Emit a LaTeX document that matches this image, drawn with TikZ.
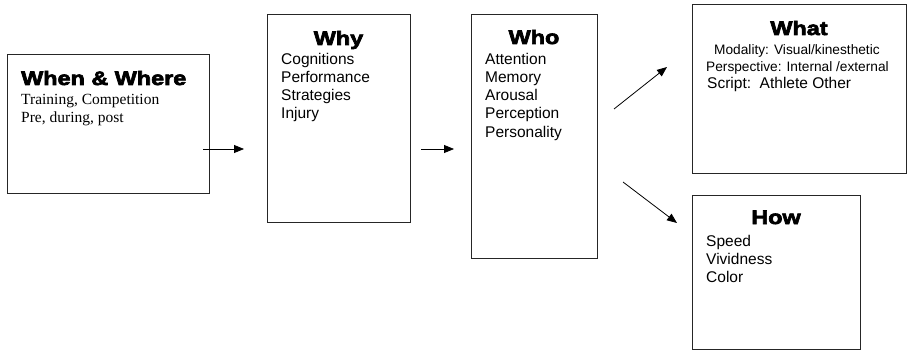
\documentclass[tikz,border=0pt]{standalone}
\usepackage{fontspec}
\setmainfont{Liberation Serif}
\newfontfamily\sansbody{Liberation Sans}
\newfontfamily\heavyfont{Liberation Sans Bold}[FakeBold=3.5,FakeStretch=1.2]
\usetikzlibrary{arrows.meta}
\tikzset{
  box/.style={draw=black!85, line width=0.9pt, inner sep=0pt, anchor=north west},
  ttl/.style={font=\heavyfont\fontsize{19.5}{22}\selectfont, inner sep=0pt, anchor=base},
  ttlw/.style={font=\heavyfont\fontsize{19.5}{22}\selectfont, inner sep=0pt, anchor=base west},
  ser/.style={font=\rmfamily\fontsize{15.5}{18}\selectfont, inner sep=0pt, anchor=base west},
  san/.style={font=\sansbody\fontsize{15.5}{18}\selectfont, inner sep=0pt, anchor=base west},
  sansm/.style={font=\sansbody\fontsize{13.7}{16}\selectfont, inner sep=0pt, anchor=base west},
  arr/.style={line width=0.8pt, -{Triangle[length=10pt,width=8pt]}}
}
\begin{document}
\begin{tikzpicture}[x=1pt,y=-1pt]
\useasboundingbox[fill=white] (0,0) rectangle (907,350);
% boxes
\node[box, minimum width=202pt, minimum height=139pt] (b1) at (7,54) {};
\node[box, minimum width=143pt, minimum height=208pt] (b2) at (267,14) {};
\node[box, minimum width=126pt, minimum height=244pt] (b3) at (471,14) {};
\node[box, minimum width=214pt, minimum height=169pt] (b4) at (692,4) {};
\node[box, minimum width=168pt, minimum height=154pt] (b5) at (692,195) {};
% When & Where
\node[ttlw] (t1) at (21,85) {When \& Where};
\node[ser] (w1) at (21,105) {Training, Competition};
\node[ser] (w2) at (21,123) {Pre, during, post};
% Why
\node[ttl] (t2) at (338.5,45) {Why};
\node[san] (y1) at (281,65) {Cognitions};
\node[san] (y2) at (281,83) {Performance};
\node[san] (y3) at (281,101) {Strategies};
\node[san] (y4) at (281,119) {Injury};
% Who
\node[ttl] (t3) at (534,44) {Who};
\node[san] (o1) at (485,65) {Attention};
\node[san] (o2) at (485,83) {Memory};
\node[san] (o3) at (485,101) {Arousal};
\node[san] (o4) at (485,119) {Perception};
\node[san] (o5) at (485,137) {Personality};
% What
\node[ttl] (t4) at (799,35) {What};
\node[sansm] (a1) at (714,55) {Modality: Visual/kinesthetic};
\node[sansm] (a2) at (706,72) {Perspective: Internal /external};
\node[san] (a3) at (707,89) {Script:\ \ Athlete Other};
% How
\node[ttl] (t5) at (776,224) {How};
\node[san] (h1) at (706,246) {Speed};
\node[san] (h2) at (706,264) {Vividness};
\node[san] (h3) at (706,282) {Color};
% arrows
\coordinate (p1s) at (203,149); \coordinate (p1e) at (244,149);
\coordinate (p2s) at (421,149); \coordinate (p2e) at (454,149);
\coordinate (p3s) at (614,109); \coordinate (p3e) at (667,67);
\coordinate (p4s) at (623,182); \coordinate (p4e) at (677,223);
\draw[arr] (p1s) -- (p1e);
\draw[arr] (p2s) -- (p2e);
\draw[arr] (p3s) -- (p3e);
\draw[arr] (p4s) -- (p4e);
\end{tikzpicture}
\end{document}
